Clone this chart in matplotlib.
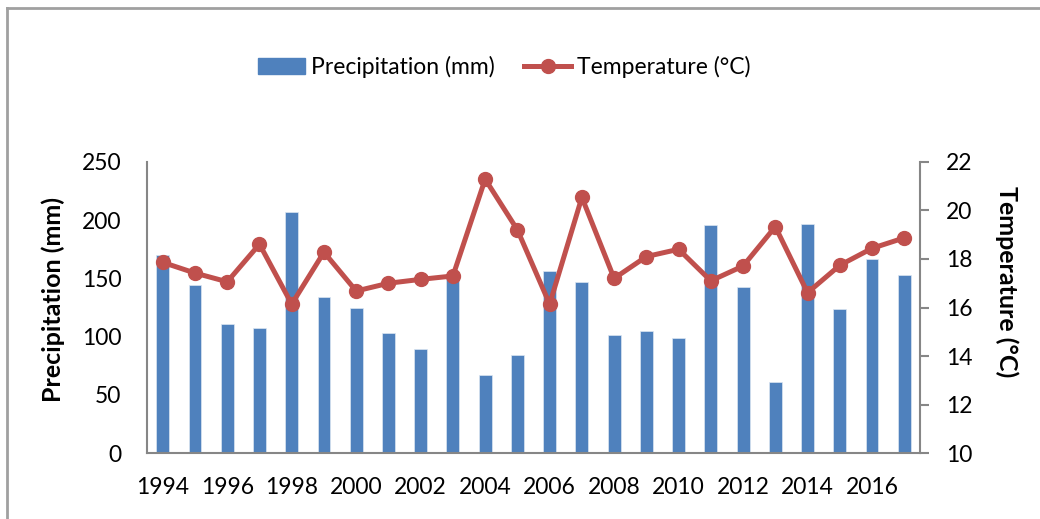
import matplotlib
matplotlib.use('Agg')
import numpy as np
from matplotlib import pyplot as plt
from matplotlib.lines import Line2D

plt.rcParams['font.family'] = ['Lato', 'DejaVu Sans']

years = list(range(1994, 2018))
precip = [170, 144, 111, 107, 207, 134, 125, 103, 89, 151, 67, 84,
          156, 147, 101, 105, 99, 196, 143, 61, 197, 124, 167, 153]
temp = [17.86, 17.42, 17.06, 18.61, 16.14, 18.28, 16.68, 17.00, 17.16, 17.30, 21.29, 19.20,
        16.14, 20.54, 17.20, 18.10, 18.40, 17.10, 17.71, 19.33, 16.61, 17.74, 18.44, 18.87]

BAR_C = '#4F81BD'
LINE_C = '#C0504D'
GRID_C = '#868686'
FS = 16.5
LFS = 18

fig = plt.figure(figsize=(10.4, 5.19), dpi=100)
ax = fig.add_axes([0.141, 0.127, 0.744, 0.561])
x = np.arange(len(years))

ax.bar(x, precip, width=0.4, color=BAR_C, edgecolor='#DCE6F2', linewidth=0.5, zorder=2)
ax.set_xlim(-0.5, len(years) - 0.5)
ax.set_ylim(0, 250)
ax.set_yticks(range(0, 251, 50))
ax.set_xticks(x[::2])
ax.set_xticklabels([str(y) for y in years[::2]])
ax.tick_params(axis='x', length=0, labelsize=FS, pad=17)
ax.tick_params(axis='y', length=0, labelsize=FS, pad=18)
ax.set_ylabel('Precipitation (mm)', fontsize=LFS, fontweight='bold', labelpad=12)
ax.yaxis.label.set_y(0.526)
for s in ['top', 'right']:
    ax.spines[s].set_visible(False)
for s in ['left', 'bottom']:
    ax.spines[s].set_color(GRID_C)
    ax.spines[s].set_linewidth(1.5)

ax2 = ax.twinx()
ax2.plot(x, temp, color=LINE_C, lw=3.6, marker='o', ms=10, zorder=3)
ax2.set_ylim(10, 22)
ax2.set_yticks(range(10, 23, 2))
ax2.tick_params(axis='y', length=6.5, width=1.5, color=GRID_C, labelsize=FS, pad=12)
ax2.set_ylabel('Temperature (°C)', fontsize=LFS, fontweight='bold', rotation=270, labelpad=33)
ax2.yaxis.label.set_y(0.588)
for s in ['top', 'left', 'bottom']:
    ax2.spines[s].set_visible(False)
ax2.spines['right'].set_color(GRID_C)
ax2.spines['right'].set_linewidth(1.5)

handles = [plt.Rectangle((0, 0), 1, 1, color=BAR_C),
           Line2D([], [], color=LINE_C, lw=3.6, marker='o', ms=10)]
fig.legend(handles, ['Precipitation (mm)', 'Temperature (°C)'], loc='center',
           bbox_to_anchor=(0.485, 0.871), ncol=2, frameon=False, fontsize=FS,
           handlelength=2.05, handletextpad=0.25, columnspacing=1.3)

# chart border
fig.add_artist(Line2D([0.0072, 0.0072], [0, 0.985], transform=fig.transFigure,
                      color='#A0A0A0', lw=2))
fig.add_artist(Line2D([0.0072, 1], [0.985, 0.985], transform=fig.transFigure,
                      color='#A0A0A0', lw=2))

fig.savefig('out.png', dpi=100)
